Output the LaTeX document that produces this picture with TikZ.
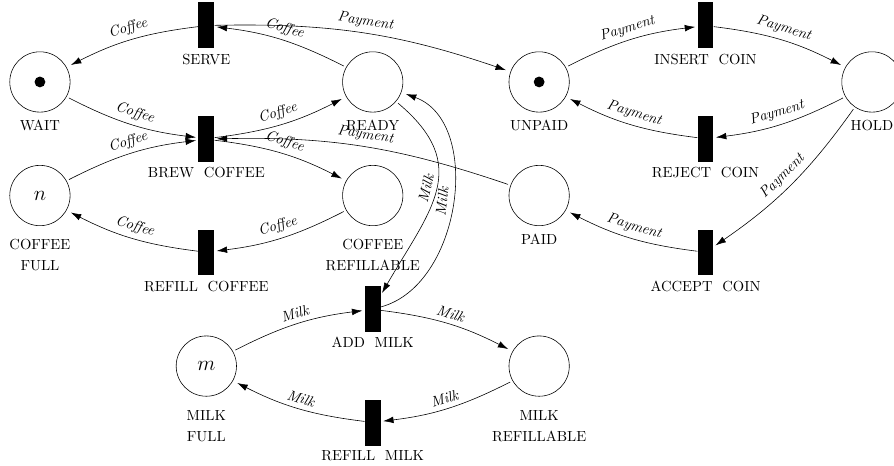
\documentclass[tikz,border=0pt]{standalone}
\usepackage{tikz}
\usetikzlibrary{arrows.meta, positioning}

\tikzset{
  place/.style={circle, draw, minimum size=1.45cm, inner sep=0pt, outer sep=2pt, label distance=-2pt},
  transition/.style={rectangle, fill=black, minimum width=0.38cm, minimum height=1.1cm, inner sep=0pt},
  tok/.style={circle, fill=black, minimum size=2.6mm, inner sep=0pt},
  flow/.style={-{Latex[length=2.5mm,width=1.6mm]}, shorten >=1.5pt},
  flowlbl/.style={above, sloped, font=\itshape},
  twolbl/.style={align=center, yshift=-4pt},
}

\begin{document}
\begin{tikzpicture}
    \useasboundingbox (-0.96,-9.23) rectangle (20.53,1.97);

    % === places and transitions ===
    \node[place, label=below:WAIT] (wait) at (0,0) {};
    \node[tok] (tokwait) at (wait) {};
    \node[transition, label=below:SERVE] (serve) at (4,1.36) {};
    \node[place, label=below:READY] (ready) at (8,0) {};
    \node[place, label=below:UNPAID] (unpaid) at (12,0) {};
    \node[tok] (tokunpaid) at (unpaid) {};
    \node[transition, label=below:INSERT~~COIN] (insert) at (16,1.36) {};
    \node[place, label=below:HOLD] (hold) at (20,0) {};

    \node[transition, label=below:BREW~~COFFEE] (brew) at (4,-1.37) {};
    \node[transition, label=below:REJECT~~COIN] (reject) at (16,-1.37) {};

    \node[place, label={[twolbl]below:COFFEE\\[2.4pt]FULL}] (cfull) at (0,-2.73) {\Large$n$};
    \node[place, label={[twolbl]below:COFFEE\\[2.4pt]REFILLABLE}] (crefill) at (8,-2.73) {};
    \node[place, label=below:PAID] (paid) at (12,-2.73) {};

    \node[transition, label=below:REFILL~~COFFEE] (refillc) at (4,-4.1) {};
    \node[transition, label=below:ACCEPT~~COIN] (accept) at (16,-4.1) {};

    % === milk part ===
    \node[transition, label=below:ADD~~MILK] (addmilk) at (8,-5.46) {};
    \node[place, label={[twolbl]below:MILK\\[2.4pt]FULL}] (mfull) at (4,-6.83) {\Large$m$};
    \node[place, label={[twolbl]below:MILK\\[2.4pt]REFILLABLE}] (mrefill) at (12,-6.83) {};
    \node[transition, label=below:REFILL~~MILK] (refillm) at (8,-8.19) {};

    % === coffee arcs ===
    \draw[flow] (serve) to[bend right=10] node[flowlbl] {Coffee} (wait);
    \draw[flow] (wait) to[bend right=10] node[flowlbl] {Coffee} (brew);
    \draw[flow] (cfull) to[bend left=10] node[flowlbl] {Coffee} (brew);
    \draw[flow] (brew) to[bend right=10] node[flowlbl] {Coffee} (ready);
    \draw[flow] (ready) to[bend right=10] node[flowlbl] {Coffee} (serve);
    \draw[flow] (brew) to[bend left=10] node[flowlbl] {Coffee} (crefill);
    \draw[flow] (crefill) to[bend left=10] node[flowlbl] {Coffee} (refillc);
    \draw[flow] (refillc) to[bend left=10] node[flowlbl] {Coffee} (cfull);

    % === payment arcs ===
    \draw[flow] (serve) to[bend left=10] node[flowlbl] {Payment} (unpaid);
    \draw[flow] (paid) to[bend right=10] node[flowlbl] {Payment} (brew);
    \draw[flow] (unpaid) to[bend left=10] node[flowlbl] {Payment} (insert);
    \draw[flow] (insert) to[bend left=10] node[flowlbl] {Payment} (hold);
    \draw[flow] (hold) to[bend left=10] node[flowlbl] {Payment} (reject);
    \draw[flow] (reject) to[bend left=10] node[flowlbl] {Payment} (unpaid);
    \draw[flow] (hold) to[bend left=10] node[flowlbl] {Payment} (accept);
    \draw[flow] (accept) to[bend left=10] node[flowlbl] {Payment} (paid);

    % === milk arcs ===
    \draw[flow] (ready) to[out=-40, in=60, looseness=1.3] node[flowlbl] {Milk} (addmilk);
    \draw[flow] (addmilk) to[out=15, in=-20] node[flowlbl] {Milk} (ready);
    \draw[flow] (mfull) to[bend left=10] node[flowlbl] {Milk} (addmilk);
    \draw[flow] (addmilk) to[bend left=10] node[flowlbl] {Milk} (mrefill);
    \draw[flow] (mrefill) to[bend left=10] node[flowlbl] {Milk} (refillm);
    \draw[flow] (refillm) to[bend left=10] node[flowlbl] {Milk} (mfull);
\end{tikzpicture}
\end{document}
